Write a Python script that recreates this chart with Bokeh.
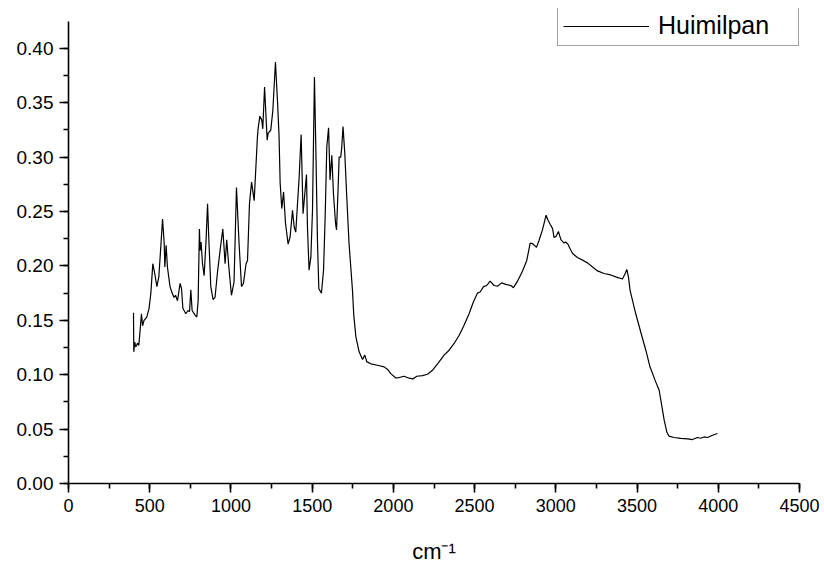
from bokeh.plotting import figure
from bokeh.models import (Range1d, SingleIntervalTicker, PrintfTickFormatter,
                          Legend, LegendItem)
from bokeh.embed import file_html
from bokeh.resources import INLINE

# FTIR absorbance spectrum, Huimilpan sample
wavenumber = [
    400, 402, 408, 414, 425, 433, 441, 449, 456, 465, 482, 496, 507, 519, 531,
    544, 556, 568, 579, 589, 593, 601, 609, 625, 638, 650, 659, 671, 687, 696,
    704, 722, 736, 745, 753, 761, 778, 790, 798, 806, 810, 816, 825, 835, 847,
    856, 864, 876, 890, 902, 917, 933, 950, 964, 974, 987, 1003, 1019, 1034,
    1050, 1065, 1077, 1093, 1102, 1114, 1127, 1143, 1163, 1167, 1178, 1190,
    1196, 1207, 1223, 1229, 1245, 1258, 1274, 1287, 1296, 1303, 1313, 1324,
    1336, 1352, 1364, 1379, 1389, 1399, 1420, 1432, 1444, 1465, 1471, 1481,
    1492, 1502, 1514, 1522, 1533, 1541, 1557, 1570, 1580, 1590, 1601, 1610,
    1621, 1631, 1644, 1650, 1660, 1666, 1676, 1682, 1690, 1701, 1713, 1727,
    1748, 1756, 1769, 1789, 1810, 1824, 1836, 1861, 1902, 1943, 1964, 1984,
    2015, 2035, 2066, 2097, 2120, 2144, 2179, 2210, 2241, 2272, 2312, 2343,
    2374, 2405, 2435, 2466, 2493, 2518, 2534, 2555, 2575, 2595, 2620, 2641,
    2666, 2692, 2723, 2739, 2764, 2795, 2821, 2842, 2856, 2881, 2897, 2918,
    2940, 2952, 2965, 2980, 2989, 3002, 3016, 3031, 3051, 3061, 3076, 3084,
    3103, 3133, 3174, 3195, 3226, 3257, 3297, 3338, 3369, 3410, 3425, 3437,
    3447, 3457, 3492, 3523, 3554, 3580, 3615, 3636, 3650, 3667, 3683, 3697,
    3728, 3769, 3811, 3841, 3872, 3892, 3913, 3934, 3964, 3995,
]
absorbance = [
    0.157, 0.121, 0.130, 0.1255, 0.129, 0.127, 0.141, 0.156, 0.145, 0.150,
    0.153, 0.161, 0.175, 0.202, 0.193, 0.181, 0.190, 0.217, 0.243, 0.221,
    0.199, 0.219, 0.199, 0.181, 0.175, 0.171, 0.173, 0.168, 0.184, 0.179,
    0.161, 0.156, 0.159, 0.158, 0.178, 0.159, 0.155, 0.153, 0.168, 0.234,
    0.214, 0.222, 0.202, 0.191, 0.224, 0.257, 0.224, 0.181, 0.169, 0.171,
    0.194, 0.214, 0.234, 0.202, 0.224, 0.199, 0.173, 0.185, 0.272, 0.2206,
    0.181, 0.184, 0.202, 0.205, 0.257, 0.277, 0.260, 0.3185, 0.326, 0.3376,
    0.334, 0.326, 0.3645, 0.3155, 0.322, 0.3247, 0.343, 0.3875, 0.350, 0.320,
    0.276, 0.2527, 0.268, 0.239, 0.220, 0.2266, 0.251, 0.236, 0.231, 0.282,
    0.3207, 0.248, 0.284, 0.236, 0.196, 0.208, 0.251, 0.3737, 0.3125, 0.2206,
    0.179, 0.175, 0.196, 0.245, 0.3093, 0.327, 0.279, 0.3017, 0.2665, 0.239,
    0.233, 0.2726, 0.300, 0.300, 0.309, 0.328, 0.303, 0.2634, 0.2206, 0.178,
    0.155, 0.135, 0.121, 0.114, 0.118, 0.112, 0.110, 0.1087, 0.1072, 0.1048,
    0.101, 0.097, 0.0974, 0.0986, 0.0968, 0.0961, 0.0986, 0.0992, 0.1004,
    0.1041, 0.110, 0.118, 0.1225, 0.1287, 0.1363, 0.1455, 0.156, 0.167,
    0.175, 0.176, 0.181, 0.182, 0.186, 0.182, 0.1813, 0.1844, 0.183, 0.182,
    0.180, 0.186, 0.1954, 0.205, 0.221, 0.2206, 0.217, 0.2236, 0.2334,
    0.2466, 0.242, 0.2383, 0.2343, 0.226, 0.2273, 0.2316, 0.2242, 0.221,
    0.222, 0.2196, 0.217, 0.2114, 0.2077, 0.2046, 0.2028, 0.199, 0.1954,
    0.193, 0.1917, 0.1899, 0.188, 0.1923, 0.1967, 0.1899, 0.1776, 0.156,
    0.139, 0.1225, 0.107, 0.0934, 0.0857, 0.0735, 0.0582, 0.0474, 0.0435,
    0.0423, 0.0414, 0.041, 0.0404, 0.0423, 0.0416, 0.0428, 0.0423, 0.0444,
    0.046,
]
series_name = "Huimilpan"
x_title = "cm\u207b\u00b9"

FONT = "Liberation Sans"

# the frame reaches a little above the y-axis end so the legend box fits
p = figure(width=824, height=569, output_backend="svg", toolbar_location=None,
           x_range=Range1d(0, 4500), y_range=Range1d(0, 0.4366),
           min_border_left=68, min_border_right=25, min_border_top=8,
           min_border_bottom=86)
p.outline_line_color = None
p.grid.visible = False
p.background_fill_color = "white"
p.border_fill_color = "white"

r = p.line(wavenumber, absorbance, line_color="black", line_width=1.2)

# axes: ticks pointing outward, one minor tick between majors
p.xaxis.ticker = SingleIntervalTicker(interval=500, num_minor_ticks=2)
p.yaxis.ticker = SingleIntervalTicker(interval=0.05, num_minor_ticks=2)
p.yaxis.formatter = PrintfTickFormatter(format="%.2f")
p.yaxis.bounds = (0, 0.425)
for ax in (p.xaxis[0], p.yaxis[0]):
    ax.axis_line_color = "black"
    ax.axis_line_width = 1.6
    ax.major_tick_line_color = "black"
    ax.major_tick_line_width = 1.6
    ax.minor_tick_line_color = "black"
    ax.minor_tick_line_width = 1.6
    ax.major_tick_out = 9
    ax.major_tick_in = 0
    ax.minor_tick_out = 5
    ax.minor_tick_in = 0
    ax.major_label_text_font = FONT
    ax.major_label_text_color = "black"
    ax.major_label_standoff = 6
p.xaxis.major_label_text_font_size = "18px"
p.yaxis.major_label_text_font_size = "19px"

p.xaxis.axis_label = x_title
p.xaxis.axis_label_text_font = FONT
p.xaxis.axis_label_text_font_size = "22px"
p.xaxis.axis_label_text_font_style = "normal"
p.xaxis.axis_label_text_color = "black"
p.xaxis.axis_label_standoff = 24

legend = Legend(items=[LegendItem(label=series_name, renderers=[r])],
                location=(489, 437))
legend.label_text_font = FONT
legend.label_text_font_size = "25px"
legend.label_text_color = "black"
legend.glyph_width = 86
legend.glyph_height = 24
legend.label_standoff = 9
legend.label_width = 135
legend.padding = 5
legend.margin = 0
legend.spacing = 0
legend.border_line_color = "#444444"
legend.border_line_width = 1.2
legend.background_fill_color = "white"
legend.background_fill_alpha = 1.0
p.add_layout(legend, "center")

open("out.html", "w").write(file_html(p, INLINE))
